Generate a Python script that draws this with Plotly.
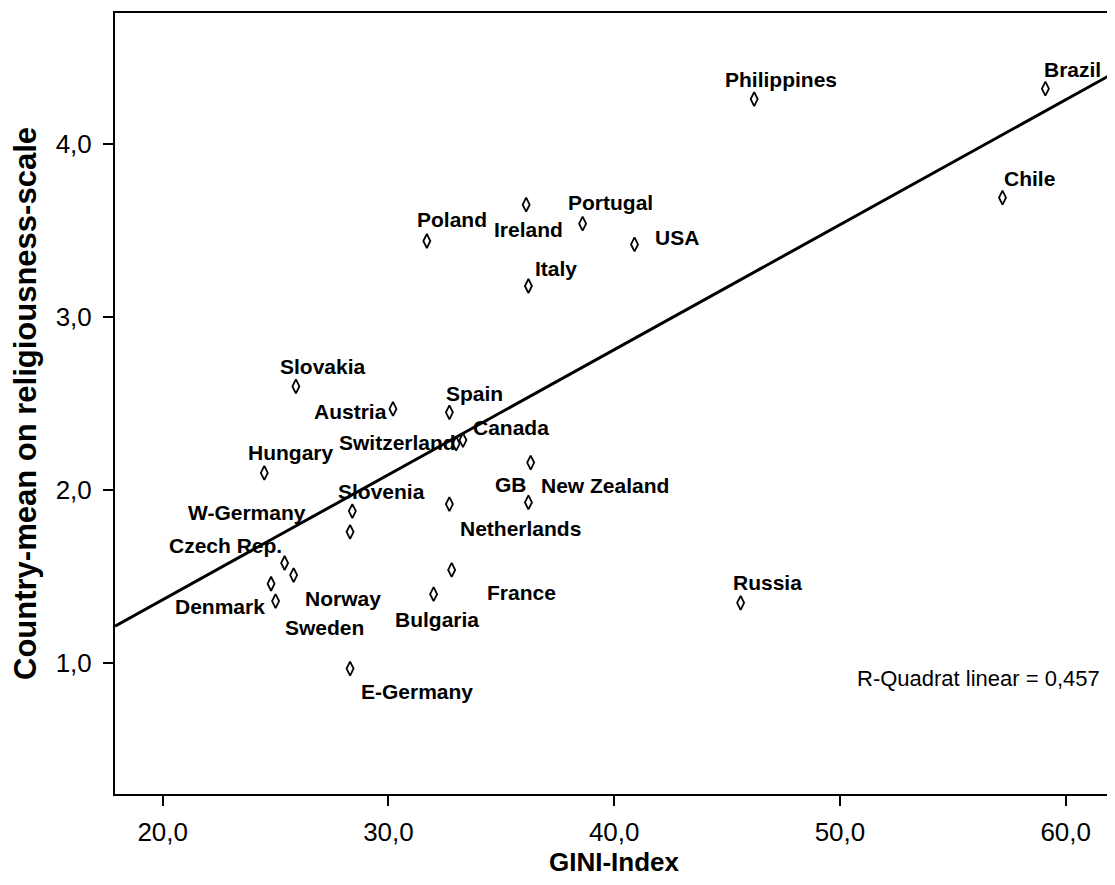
import plotly.graph_objects as go

# ---- data ----
countries = ["Brazil", "Chile", "Philippines", "Poland", "Ireland", "Portugal", "USA", "Italy",
             "Slovakia", "Austria", "Spain", "Switzerland", "Canada", "Hungary", "New Zealand",
             "GB", "Netherlands", "Slovenia", "W-Germany", "Czech Rep.", "Norway", "Denmark",
             "Sweden", "France", "Bulgaria", "E-Germany", "Russia"]
gini = [59.1, 57.2, 46.2, 31.7, 36.1, 38.6, 40.9, 36.2,
        25.9, 30.2, 32.7, 33.0, 33.3, 24.5, 36.3,
        36.2, 32.7, 28.4, 28.3, 25.4, 25.8, 24.8,
        25.0, 32.8, 32.0, 28.3, 45.6]
religiousness = [4.32, 3.69, 4.26, 3.44, 3.65, 3.54, 3.42, 3.18,
                 2.60, 2.47, 2.45, 2.27, 2.29, 2.10, 2.16,
                 1.93, 1.92, 1.88, 1.76, 1.58, 1.51, 1.46,
                 1.36, 1.54, 1.40, 0.97, 1.35]
x_ticks = [20, 30, 40, 50, 60]
y_ticks = [1, 2, 3, 4]
fit_intercept = -0.076
fit_slope = 0.0722
r_squared = "0,457"

# ---- label placement (pixel offsets of label's left edge / vertical centre from the marker) ----
label_dx = [-3, 0, -31, -12, -34, -17, 18, 5,
            -18, -81, -5, -119, 8, -18, 8,
            -35, 9, -16, -164, -118, 9, -98,
            7, 33, -41, 9, -10]
label_dy = [-19, -19, -20, -21, 25, -21, -7, -18,
            -20, 3, -19, -1, -13, -20, 23,
            -18, 24, -20, -19, -17, 23, 23,
            26, 23, 25, 23, -20]

x_range = [17.887, 62.095]
y_range = [0.2455, 4.757]

FONT = "Liberation Sans, Arial, sans-serif"

fig = go.Figure()

# regression line across the full x range
fig.add_trace(go.Scatter(
    x=x_range,
    y=[fit_intercept + fit_slope * v for v in x_range],
    mode="lines",
    line=dict(color="black", width=3),
    hoverinfo="skip",
    showlegend=False,
))

fig.add_trace(go.Scatter(
    x=gini, y=religiousness, mode="markers",
    marker=dict(symbol="diamond-tall-open", size=10, color="black",
                line=dict(width=1.8, color="black")),
    text=countries, showlegend=False,
))

label_font = dict(family=FONT, size=21, color="black", weight="bold")
for name, gx, ry, dx, dy in zip(countries, gini, religiousness, label_dx, label_dy):
    fig.add_annotation(x=gx, y=ry, xref="x", yref="y", text=name, showarrow=False,
                       xanchor="left", yanchor="middle", xshift=dx, yshift=-dy,
                       font=label_font)

fig.add_annotation(x=0.989, y=0.1485, xref="paper", yref="paper",
                   text="R-Quadrat linear = " + r_squared, showarrow=False,
                   xanchor="right", yanchor="middle",
                   font=dict(family=FONT, size=22, color="black"))

axis_common = dict(
    showline=True, linecolor="black", linewidth=2, mirror=True,
    ticks="outside", ticklen=10, tickwidth=2, tickcolor="black",
    showgrid=False, zeroline=False,
    tickfont=dict(family=FONT, size=26, color="black"),
    tickformat=".1f",
)

fig.update_xaxes(range=x_range, tickvals=x_ticks, ticklabelstandoff=4, **axis_common,
                 title=dict(text="GINI-Index", standoff=9,
                            font=dict(family=FONT, size=26, color="black", weight="bold")))
fig.update_yaxes(range=y_range, tickvals=y_ticks, ticklabelstandoff=6, **axis_common,
                 title=dict(text="Country-mean on religiousness-scale", standoff=12,
                            font=dict(family=FONT, size=31, color="black", weight="bold")))

# the page body has an 8px margin; size the figure so the page does not overflow
# and the frame lands where the reference has it
fig.update_layout(
    width=1107, height=869,
    margin=dict(l=107, r=2, t=5, b=83, autoexpand=False),
    plot_bgcolor="white", paper_bgcolor="white",
    separators=",.",
    showlegend=False,
)

fig.write_html("out.html")
